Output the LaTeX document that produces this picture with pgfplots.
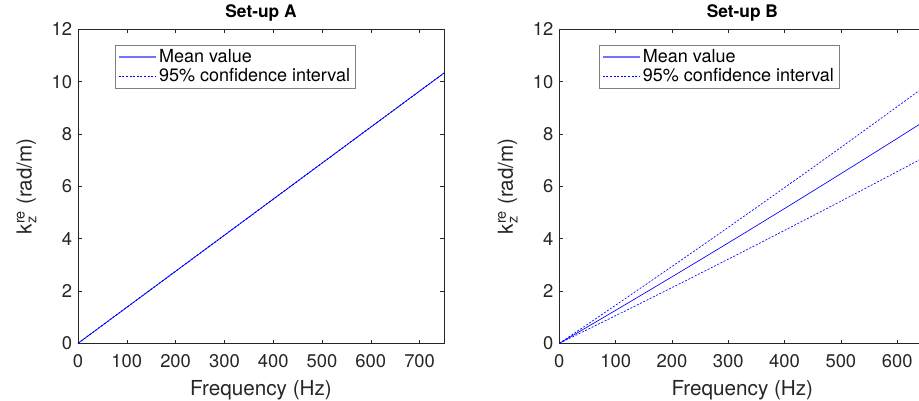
\documentclass[border=0pt]{standalone}
\usepackage{fontspec}
\setmainfont{TeX Gyre Heros}
\usepackage{amsmath}
\usepackage{pgfplots}
\pgfplotsset{compat=1.18}

\definecolor{axgray}{gray}{0.15}
\definecolor{legblue}{rgb}{0.45,0.45,1}

\pgfplotstableread{
f mean up lo
0 0 0 0
50 0.689 0.689 0.689
100 1.377 1.377 1.377
150 2.066 2.066 2.066
200 2.755 2.755 2.755
250 3.443 3.443 3.443
300 4.132 4.132 4.132
350 4.821 4.821 4.821
400 5.509 5.509 5.509
450 6.198 6.198 6.198
500 6.887 6.887 6.887
550 7.575 7.575 7.575
600 8.264 8.264 8.264
650 8.952 8.952 8.952
700 9.641 9.641 9.641
750 10.330 10.330 10.330
}\dataA

\pgfplotstableread{
f mean up lo
0 0 0 0
50 0.629 0.727 0.527
100 1.263 1.459 1.058
150 1.900 2.195 1.592
200 2.542 2.936 2.130
250 3.188 3.682 2.672
300 3.838 4.433 3.216
350 4.493 5.189 3.765
400 5.152 5.951 4.317
450 5.815 6.716 4.873
500 6.483 7.488 5.433
550 7.155 8.264 5.996
600 7.831 9.045 6.562
650 8.511 9.830 7.132
}\dataB

\pgfplotsset{
 mystyle/.style={
  scale only axis, width=274.5pt, height=235.5pt,
  xmin=0, ymin=0, ymax=12, ytick={0,2,...,12},
  tick align=inside, major tick length=2.7pt,
  axis line style={axgray, line width=0.4pt},
  every tick/.style={axgray, line width=0.4pt},
  tick label style={font=\fontsize{13.8}{16}\selectfont, text=axgray},
  /pgf/number format/assume math mode=true,
  xticklabel style={yshift=-4.9pt},
  yticklabel style={xshift=-0.9pt},
  xlabel={Frequency (Hz)},
  ylabel={k$^{\text{re}}_{\text{z}}$ (rad/m)},
  label style={font=\fontsize{15.5}{18}\selectfont, text=axgray},
  xlabel style={at={(axis description cs:0.5,-0.1646)}, anchor=base},
  ylabel style={at={(axis description cs:-0.127,0.5)}, anchor=base},
  title style={font=\bfseries\fontsize{13}{15}\selectfont, at={(axis description cs:0.5,1)}, anchor=base, yshift=3pt},
  legend cell align=left,
  legend style={anchor=north west, draw=black!50, fill=white, font=\fontsize{13.5}{15}\selectfont, inner xsep=2pt, inner ysep=1.5pt, row sep=-1pt},
  scaled ticks=false,
 },
 meanstyle/.style={blue, line width=0.5pt},
 cistyle/.style={blue, line width=0.5pt, dash pattern=on 1.5pt off 1.2pt},
 meanleg/.style={legend image code/.code={\draw[draw=legblue, line width=0.9pt] (0pt,0.2pt) -- (27.7pt,0.2pt);}},
 cileg/.style={legend image code/.code={\draw[draw=blue, line width=0.6pt, dash pattern=on 1.5pt off 1.2pt] (0pt,0.2pt) -- (27.7pt,0.2pt);}},
}

\begin{document}
\begin{tikzpicture}
\useasboundingbox (0,0) rectangle (689.25pt,300pt);
\clip (0,0) rectangle (689.25pt,300pt);
\begin{axis}[mystyle, at={(58.5pt,42.5pt)}, anchor=south west,
  xmax=750, xtick={0,100,...,700}, title={Set-up A},
  legend style={at={(axis description cs:0.102,0.951)}}]
\addplot[meanstyle, meanleg] table[x=f,y=mean] {\dataA};
\addlegendentry{Mean value}
\addplot[cistyle, cileg] table[x=f,y=up] {\dataA};
\addlegendentry{95\% confidence interval}
\addplot[cistyle, forget plot] table[x=f,y=lo] {\dataA};
\end{axis}
\begin{axis}[mystyle, at={(419.5pt,42.5pt)}, anchor=south west,
  xmax=650, xtick={0,100,...,600}, title={Set-up B},
  legend style={at={(axis description cs:0.109,0.951)}}]
\addplot[meanstyle, meanleg] table[x=f,y=mean] {\dataB};
\addlegendentry{Mean value}
\addplot[cistyle, cileg] table[x=f,y=up] {\dataB};
\addlegendentry{95\% confidence interval}
\addplot[cistyle, forget plot] table[x=f,y=lo] {\dataB};
\end{axis}
\end{tikzpicture}
\end{document}
